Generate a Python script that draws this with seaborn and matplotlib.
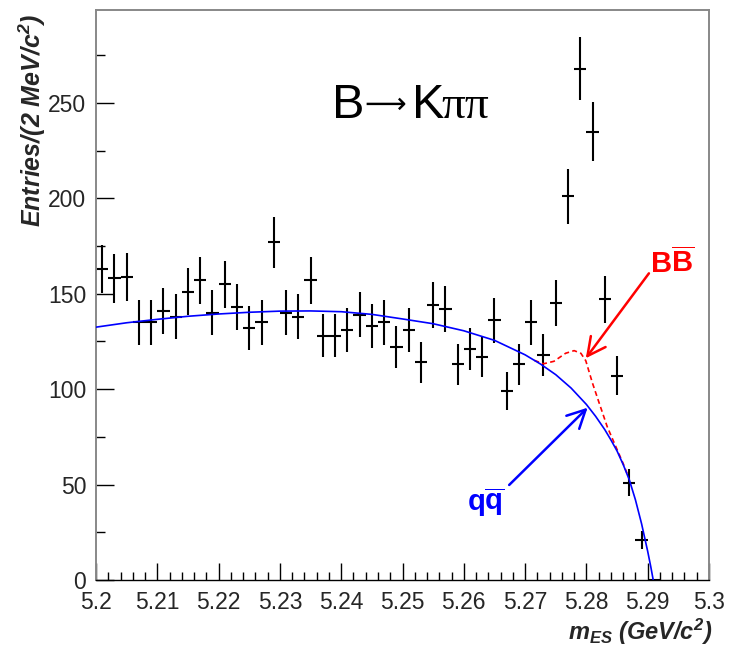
import numpy as np
import pandas as pd
import matplotlib
matplotlib.use("Agg")
import matplotlib.pyplot as plt
import seaborn as sns
from matplotlib.ticker import MultipleLocator, FuncFormatter

# ---------------- data ----------------
bin_centers = [5.201, 5.203, 5.205, 5.207, 5.209, 5.211, 5.213, 5.215, 5.217, 5.219,
               5.221, 5.223, 5.225, 5.227, 5.229, 5.231, 5.233, 5.235, 5.237, 5.239,
               5.241, 5.243, 5.245, 5.247, 5.249, 5.251, 5.253, 5.255, 5.257, 5.259,
               5.261, 5.263, 5.265, 5.267, 5.269, 5.271, 5.273, 5.275, 5.277, 5.279,
               5.281, 5.283, 5.285, 5.287, 5.289, 5.291]
counts = [163, 158, 159, 135, 135, 141, 138, 151, 157, 140,
          155, 143, 132, 135, 177, 140, 138, 157, 128, 128,
          131, 139, 133, 135, 122, 131, 114, 144, 142, 113,
          121, 117, 136, 99, 113, 135, 118, 145, 201, 268,
          235, 147, 107, 51, 21, 0]
count_err = [12.8, 12.6, 12.6, 11.6, 11.6, 11.9, 11.7, 12.3, 12.5, 11.8,
             12.4, 12.0, 11.5, 11.6, 13.3, 11.8, 11.7, 12.5, 11.3, 11.3,
             11.4, 11.8, 11.5, 11.6, 11.0, 11.4, 10.7, 12.0, 11.9, 10.6,
             11.0, 10.8, 11.7, 9.9, 10.6, 11.6, 10.9, 12.0, 14.2, 16.4,
             15.3, 12.1, 10.3, 7.1, 4.6, 0.0]
half_bin = 0.001

# continuum (q qbar) curve
qq_x = [5.200, 5.205, 5.210, 5.215, 5.220, 5.225, 5.230, 5.235, 5.240, 5.245,
        5.250, 5.255, 5.260, 5.265, 5.270, 5.2725, 5.275, 5.2775, 5.280, 5.2815,
        5.283, 5.284, 5.285, 5.286, 5.287, 5.288, 5.289, 5.2900, 5.2905, 5.2909]
qq_y = [132.5, 134.8, 136.6, 138.2, 139.4, 140.3, 140.9, 141.0, 140.6, 139.2,
        136.8, 134.3, 130.6, 125.6, 118.0, 113.2, 107.6, 100.6, 92.0, 85.8,
        78.8, 73.4, 67.6, 60.5, 52.5, 42.0, 29.5, 15.0, 7.0, 0.0]

# total (with B Bbar) curve
bb_x = [5.2715, 5.2730, 5.2747, 5.2766, 5.2780, 5.2791, 5.2799, 5.2810, 5.2821,
        5.2834, 5.2848, 5.2860, 5.2868]
bb_y = [115.1, 113.3, 114.6, 118.8, 120.2, 118.8, 114.9, 103.1, 92.6,
        80.3, 69.9, 61.0, 54.5]

# ---------------- style ----------------
sns.set_theme(style="white")
plt.rcParams["font.family"] = ["Liberation Sans", "DejaVu Sans"]
plt.rcParams["mathtext.fontset"] = "custom"
plt.rcParams["mathtext.rm"] = "Liberation Sans:italic:bold"
plt.rcParams["mathtext.it"] = "Liberation Sans:italic:bold"
plt.rcParams["mathtext.bf"] = "Liberation Sans:bold"

W, H = 739, 654
fig = plt.figure(figsize=(W / 100, H / 100), dpi=100)
left, right, bottom, top = 96, 709, 580, 10
ax = fig.add_axes([left / W, 1 - bottom / H, (right - left) / W, (bottom - top) / H])
ax.set_facecolor("white")

# data points with error bars
ax.errorbar(bin_centers, counts, xerr=half_bin, yerr=count_err, fmt="none",
            ecolor="black", elinewidth=1.5, capsize=0, zorder=2)

# curves
df_bb = pd.DataFrame({"x": bb_x, "y": bb_y})
sns.lineplot(data=df_bb, x="x", y="y", ax=ax, color="red", linewidth=1.2,
             estimator=None, sort=False, zorder=3)
ax.lines[-1].set_dashes([3, 2])
df_qq = pd.DataFrame({"x": qq_x, "y": qq_y})
sns.lineplot(data=df_qq, x="x", y="y", ax=ax, color="blue", linewidth=1.2,
             estimator=None, sort=False, zorder=4)

ax.set_xlim(5.2, 5.3)
ax.set_ylim(0, 298.7)
ax.set_xlabel("")
ax.set_ylabel("")

# ticks
ax.xaxis.set_major_locator(MultipleLocator(0.01))
ax.xaxis.set_minor_locator(MultipleLocator(0.002))
ax.yaxis.set_major_locator(MultipleLocator(50))
ax.yaxis.set_minor_locator(MultipleLocator(25))
ax.xaxis.set_major_formatter(FuncFormatter(lambda v, p: "%g" % round(v, 3)))
ax.yaxis.set_major_formatter(FuncFormatter(lambda v, p: "%d" % round(v)))
ax.tick_params(axis="x", which="major", direction="in", length=12, width=1,
               color="black", labelsize=16.5, pad=8, top=False, bottom=True)
ax.tick_params(axis="x", which="minor", direction="in", length=6, width=1,
               color="black", top=False, bottom=True)
ax.tick_params(axis="y", which="major", direction="in", length=13, width=1,
               color="black", labelsize=16.5, pad=7, right=False, left=True)
ax.tick_params(axis="y", which="minor", direction="in", length=6.5, width=1,
               color="black", right=False, left=True)

for s in ["left", "top", "right"]:
    ax.spines[s].set_color("#888888")
    ax.spines[s].set_linewidth(1.4)
ax.spines["bottom"].set_color("black")
ax.spines["bottom"].set_linewidth(1.0)

# arrows
ax.annotate("", xy=(5.2799, 116.2), xytext=(5.2902, 160.7),
            arrowprops=dict(arrowstyle="->,head_length=0.65,head_width=0.33",
                            color="red", lw=1.8, mutation_scale=20,
                            shrinkA=0, shrinkB=0), zorder=5)
ax.annotate("", xy=(5.2802, 90.3), xytext=(5.2674, 49.8),
            arrowprops=dict(arrowstyle="->,head_length=0.65,head_width=0.33",
                            color="blue", lw=1.8, mutation_scale=20,
                            shrinkA=0, shrinkB=0), zorder=5)

# labels in plot
ax.text(5.2903, 161.0, r"$\mathbf{B\overline{B}}$", color="red", fontsize=21,
        ha="left", va="baseline", zorder=6)
ax.text(5.2605, 36.2, r"$\mathbf{q\overline{q}}$", color="blue", fontsize=21,
        ha="left", va="baseline", zorder=6)

def px2data(px, py):
    return 5.2 + (px - left) / (right - left) * 0.1, (bottom - py) / (bottom - top) * 298.7

tx, ty = px2data(332, 118.3)
ax.text(tx, ty, "B", fontsize=35, color="black", family="Liberation Sans",
        ha="left", va="baseline")
tx, ay = px2data(385.5, 113.0)
ax.text(tx, ay, "\u27f6", fontsize=21, color="black",
        family=["DejaVu Sans", "Noto Sans"], ha="center", va="baseline")
tx, _ = px2data(411.5, 118.3)
ax.text(tx, ty, "K", fontsize=35, color="black", family="Liberation Sans",
        ha="left", va="baseline")
tx, _ = px2data(441.7, 118.3)
ax.text(tx, ty, "\u03c0\u03c0", fontsize=34, color="black",
        family=["Liberation Serif", "DejaVu Serif"], ha="left", va="baseline")

# axis titles
fig.text(32 / W, 1 - 14 / H, r"Entries/(2 MeV/c$^{2}$)", rotation=90,
         ha="center", va="top", fontsize=18, fontweight="bold", fontstyle="italic")
fig.text(712 / W, 1 - 640 / H, r"$m_{ES}$ (GeV/c$^{2}$)", ha="right", va="baseline",
         fontsize=17, fontweight="bold", fontstyle="italic")

fig.savefig("out.png", dpi=100, facecolor="white")
